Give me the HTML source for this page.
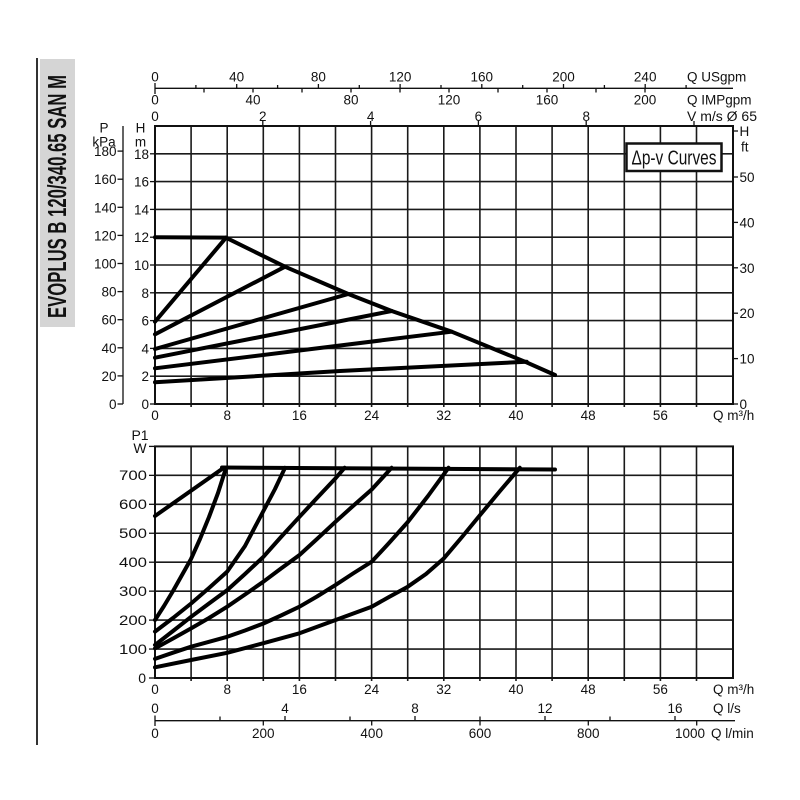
<!DOCTYPE html>
<html>
<head>
<meta charset="utf-8">
<style>
html,body{margin:0;padding:0;background:#fff;}
svg{display:block;}
text{font-family:"Liberation Sans",Arial,sans-serif;fill:#111;}
</style>
</head>
<body>
<svg width="800" height="800" viewBox="0 0 800 800" xmlns="http://www.w3.org/2000/svg">
<rect x="0" y="0" width="800" height="800" fill="#fff"/>

<!-- Title -->
<line x1="37" y1="58" x2="37" y2="745" stroke="#333" stroke-width="2"/>
<rect x="40" y="59" width="35" height="268" fill="#d5d5d5"/>
<text transform="translate(66,196.5) rotate(-90)" x="-121.5" y="0" font-size="26" font-weight="bold" textLength="243" lengthAdjust="spacingAndGlyphs">EVOPLUS B 120/340.65 SAN M</text>

<!-- Top axes -->
<g stroke="#111" stroke-width="1.3">
<line x1="155" y1="88.3" x2="733" y2="88.3"/>
<line x1="155" y1="83" x2="155" y2="94"/>
<!-- USgpm major ticks -->
<line x1="236.7" y1="84" x2="236.7" y2="88.3"/><line x1="318.4" y1="84" x2="318.4" y2="88.3"/><line x1="400.1" y1="84" x2="400.1" y2="88.3"/><line x1="481.8" y1="84" x2="481.8" y2="88.3"/><line x1="563.5" y1="84" x2="563.5" y2="88.3"/><line x1="645.2" y1="84" x2="645.2" y2="88.3"/>
<!-- USgpm minor -->
<line x1="195.9" y1="85" x2="195.9" y2="88.3"/><line x1="277.6" y1="85" x2="277.6" y2="88.3"/><line x1="359.3" y1="85" x2="359.3" y2="88.3"/><line x1="441" y1="85" x2="441" y2="88.3"/><line x1="522.7" y1="85" x2="522.7" y2="88.3"/><line x1="604.4" y1="85" x2="604.4" y2="88.3"/><line x1="686.1" y1="85" x2="686.1" y2="88.3"/>
<!-- IMPgpm ticks -->
<line x1="204" y1="88.3" x2="204" y2="92.5"/><line x1="253" y1="88.3" x2="253" y2="92.5"/><line x1="302" y1="88.3" x2="302" y2="92.5"/><line x1="351" y1="88.3" x2="351" y2="92.5"/><line x1="400" y1="88.3" x2="400" y2="92.5"/><line x1="449" y1="88.3" x2="449" y2="92.5"/><line x1="498" y1="88.3" x2="498" y2="92.5"/><line x1="547" y1="88.3" x2="547" y2="92.5"/><line x1="596" y1="88.3" x2="596" y2="92.5"/><line x1="645" y1="88.3" x2="645" y2="92.5"/>
<!-- V ticks -->
<line x1="262.8" y1="121" x2="262.8" y2="126"/><line x1="370.6" y1="121" x2="370.6" y2="126"/><line x1="478.4" y1="121" x2="478.4" y2="126"/><line x1="586.2" y1="121" x2="586.2" y2="126"/><line x1="694" y1="121" x2="694" y2="126"/>
</g>
<g font-size="13.5" text-anchor="middle">
<text x="155" y="81.5">0</text><text x="236.7" y="81.5">40</text><text x="318.4" y="81.5">80</text><text x="400.1" y="81.5">120</text><text x="481.8" y="81.5">160</text><text x="563.5" y="81.5">200</text><text x="645.2" y="81.5">240</text>
<text x="155" y="104.5">0</text><text x="253" y="104.5">40</text><text x="351" y="104.5">80</text><text x="449" y="104.5">120</text><text x="547" y="104.5">160</text><text x="645" y="104.5">200</text>
<text x="155" y="121">0</text><text x="262.8" y="121">2</text><text x="370.6" y="121">4</text><text x="478.4" y="121">6</text><text x="586.2" y="121">8</text>
</g>
<g font-size="13.5">
<text x="687" y="81.5">Q USgpm</text>
<text x="687" y="104.5">Q IMPgpm</text>
<text x="687" y="121" textLength="70" lengthAdjust="spacingAndGlyphs">V m/s Ø 65</text>
</g>

<!-- Upper chart grid -->
<g stroke="#1a1a1a" stroke-width="1.6">
<line x1="191.1" y1="126" x2="191.1" y2="407"/><line x1="227.2" y1="126" x2="227.2" y2="407"/><line x1="263.3" y1="126" x2="263.3" y2="407"/><line x1="299.4" y1="126" x2="299.4" y2="407"/><line x1="335.5" y1="126" x2="335.5" y2="407"/><line x1="371.6" y1="126" x2="371.6" y2="407"/><line x1="407.7" y1="126" x2="407.7" y2="407"/><line x1="443.8" y1="126" x2="443.8" y2="407"/><line x1="479.9" y1="126" x2="479.9" y2="407"/><line x1="516" y1="126" x2="516" y2="407"/><line x1="552.1" y1="126" x2="552.1" y2="407"/><line x1="588.2" y1="126" x2="588.2" y2="407"/><line x1="624.3" y1="126" x2="624.3" y2="407"/><line x1="660.4" y1="126" x2="660.4" y2="407"/><line x1="696.5" y1="126" x2="696.5" y2="407"/>
<line x1="155" y1="376.2" x2="733" y2="376.2"/><line x1="155" y1="348.4" x2="733" y2="348.4"/><line x1="155" y1="320.6" x2="733" y2="320.6"/><line x1="155" y1="292.8" x2="733" y2="292.8"/><line x1="155" y1="265" x2="733" y2="265"/><line x1="155" y1="237.2" x2="733" y2="237.2"/><line x1="155" y1="209.4" x2="733" y2="209.4"/><line x1="155" y1="181.6" x2="733" y2="181.6"/><line x1="155" y1="153.8" x2="733" y2="153.8"/>
</g>
<rect x="155" y="126" width="578" height="278" fill="none" stroke="#111" stroke-width="2"/>

<!-- left H ticks / P axis -->
<g stroke="#111" stroke-width="1.3">
<line x1="123" y1="126" x2="123" y2="404"/>
<line x1="150" y1="404" x2="155" y2="404"/><line x1="150" y1="376.2" x2="155" y2="376.2"/><line x1="150" y1="348.4" x2="155" y2="348.4"/><line x1="150" y1="320.6" x2="155" y2="320.6"/><line x1="150" y1="292.8" x2="155" y2="292.8"/><line x1="150" y1="265" x2="155" y2="265"/><line x1="150" y1="237.2" x2="155" y2="237.2"/><line x1="150" y1="209.4" x2="155" y2="209.4"/><line x1="150" y1="181.6" x2="155" y2="181.6"/><line x1="150" y1="153.8" x2="155" y2="153.8"/>
<line x1="117.5" y1="404" x2="123" y2="404"/><line x1="117.5" y1="375.9" x2="123" y2="375.9"/><line x1="117.5" y1="347.8" x2="123" y2="347.8"/><line x1="117.5" y1="319.7" x2="123" y2="319.7"/><line x1="117.5" y1="291.6" x2="123" y2="291.6"/><line x1="117.5" y1="263.5" x2="123" y2="263.5"/><line x1="117.5" y1="235.4" x2="123" y2="235.4"/><line x1="117.5" y1="207.3" x2="123" y2="207.3"/><line x1="117.5" y1="179.2" x2="123" y2="179.2"/><line x1="117.5" y1="151.1" x2="123" y2="151.1"/>
<!-- right ft ticks -->
<line x1="733" y1="404" x2="738" y2="404"/><line x1="733" y1="358.6" x2="738" y2="358.6"/><line x1="733" y1="313.2" x2="738" y2="313.2"/><line x1="733" y1="267.8" x2="738" y2="267.8"/><line x1="733" y1="222.4" x2="738" y2="222.4"/><line x1="733" y1="177" x2="738" y2="177"/><line x1="733" y1="131" x2="738" y2="131"/>
</g>
<g font-size="13.5" text-anchor="end">
<text x="149" y="409">0</text><text x="149" y="381.2">2</text><text x="149" y="353.4">4</text><text x="149" y="325.6">6</text><text x="149" y="297.8">8</text><text x="149" y="270">10</text><text x="149" y="242.2">12</text><text x="149" y="214.4">14</text><text x="149" y="186.6">16</text><text x="149" y="158.8">18</text>
<text x="116.5" y="409">0</text><text x="116.5" y="380.9">20</text><text x="116.5" y="352.8">40</text><text x="116.5" y="324.7">60</text><text x="116.5" y="296.6">80</text><text x="116.5" y="268.5">100</text><text x="116.5" y="240.4">120</text><text x="116.5" y="212.3">140</text><text x="116.5" y="184.2">160</text><text x="116.5" y="156.1">180</text>
</g>
<g font-size="13.5" text-anchor="middle">
<text x="104" y="132.5">P</text><text x="104" y="146.5">kPa</text>
<text x="140.5" y="132.5">H</text><text x="140.5" y="146.5">m</text>
</g>
<g font-size="13.5">
<text x="739.5" y="409">0</text><text x="739.5" y="363.6">10</text><text x="739.5" y="318.2">20</text><text x="739.5" y="272.8">30</text><text x="739.5" y="227.4">40</text><text x="739.5" y="182">50</text>
<text x="739.5" y="136">H</text><text x="741" y="151.5">ft</text>
</g>
<!-- upper x labels -->
<g font-size="13.5" text-anchor="middle">
<text x="155" y="420">0</text><text x="227.2" y="420">8</text><text x="299.4" y="420">16</text><text x="371.6" y="420">24</text><text x="443.8" y="420">32</text><text x="516" y="420">40</text><text x="588.2" y="420">48</text><text x="660.4" y="420">56</text>
</g>
<text x="713" y="420" font-size="13.5">Q m³/h</text>

<!-- Δp-v box -->
<rect x="626.5" y="143.5" width="95" height="27.5" fill="#fff" stroke="#111" stroke-width="2.5"/>
<text x="631.5" y="164.5" font-size="20" textLength="85" lengthAdjust="spacingAndGlyphs">Δp-v Curves</text>

<!-- Upper curves -->
<g fill="none" stroke="#000" stroke-width="4" stroke-linejoin="round" stroke-linecap="round">
<polyline points="155,237.3 226,237.6"/>
<polyline points="226,237.7 285,266.7 348.3,294 391.7,311 451.7,331.7 525,361.7 555,375"/>
<polyline points="155,321.7 226,237.7"/>
<polyline points="155,334.3 285,266.7"/>
<polyline points="155,349 348.3,294"/>
<polyline points="155,357.7 391.7,311"/>
<polyline points="155,368.3 451.7,331.7"/>
<polyline points="155,382.3 340,371 526.7,361.7"/>
</g>

<!-- Lower chart grid -->
<g stroke="#1a1a1a" stroke-width="1.6">
<line x1="191.1" y1="446.4" x2="191.1" y2="681"/><line x1="227.2" y1="446.4" x2="227.2" y2="681"/><line x1="263.3" y1="446.4" x2="263.3" y2="681"/><line x1="299.4" y1="446.4" x2="299.4" y2="681"/><line x1="335.5" y1="446.4" x2="335.5" y2="681"/><line x1="371.6" y1="446.4" x2="371.6" y2="681"/><line x1="407.7" y1="446.4" x2="407.7" y2="681"/><line x1="443.8" y1="446.4" x2="443.8" y2="681"/><line x1="479.9" y1="446.4" x2="479.9" y2="681"/><line x1="516" y1="446.4" x2="516" y2="681"/><line x1="552.1" y1="446.4" x2="552.1" y2="681"/><line x1="588.2" y1="446.4" x2="588.2" y2="681"/><line x1="624.3" y1="446.4" x2="624.3" y2="681"/><line x1="660.4" y1="446.4" x2="660.4" y2="681"/><line x1="696.5" y1="446.4" x2="696.5" y2="681"/>
<line x1="155" y1="649.05" x2="733" y2="649.05"/><line x1="155" y1="620.1" x2="733" y2="620.1"/><line x1="155" y1="591.15" x2="733" y2="591.15"/><line x1="155" y1="562.2" x2="733" y2="562.2"/><line x1="155" y1="533.25" x2="733" y2="533.25"/><line x1="155" y1="504.3" x2="733" y2="504.3"/><line x1="155" y1="475.35" x2="733" y2="475.35"/>
</g>
<rect x="155" y="446.4" width="578" height="231.6" fill="none" stroke="#111" stroke-width="2"/>
<g stroke="#111" stroke-width="1.3">
<line x1="149" y1="678" x2="155" y2="678"/><line x1="149" y1="649.05" x2="155" y2="649.05"/><line x1="149" y1="620.1" x2="155" y2="620.1"/><line x1="149" y1="591.15" x2="155" y2="591.15"/><line x1="149" y1="562.2" x2="155" y2="562.2"/><line x1="149" y1="533.25" x2="155" y2="533.25"/><line x1="149" y1="504.3" x2="155" y2="504.3"/><line x1="149" y1="475.35" x2="155" y2="475.35"/><line x1="149" y1="446.4" x2="155" y2="446.4"/>
</g>
<g font-size="14" text-anchor="end">
<text x="146" y="683">0</text>
<text x="147" y="654" textLength="28" lengthAdjust="spacingAndGlyphs">100</text>
<text x="147" y="625" textLength="28" lengthAdjust="spacingAndGlyphs">200</text>
<text x="147" y="596" textLength="28" lengthAdjust="spacingAndGlyphs">300</text>
<text x="147" y="567" textLength="28" lengthAdjust="spacingAndGlyphs">400</text>
<text x="147" y="538" textLength="28" lengthAdjust="spacingAndGlyphs">500</text>
<text x="147" y="509" textLength="28" lengthAdjust="spacingAndGlyphs">600</text>
<text x="147" y="480" textLength="28" lengthAdjust="spacingAndGlyphs">700</text>
</g>
<g font-size="14" text-anchor="middle">
<text x="140" y="440">P1</text><text x="140" y="453">W</text>
</g>
<g font-size="13.5" text-anchor="middle">
<text x="155" y="694">0</text><text x="227.2" y="694">8</text><text x="299.4" y="694">16</text><text x="371.6" y="694">24</text><text x="443.8" y="694">32</text><text x="516" y="694">40</text><text x="588.2" y="694">48</text><text x="660.4" y="694">56</text>
</g>
<text x="713" y="694" font-size="13.5">Q m³/h</text>

<!-- Lower curves -->
<g fill="none" stroke="#000" stroke-width="4" stroke-linejoin="round" stroke-linecap="round">
<polyline points="222,467.5 555,469.5"/>
<polyline points="155,516 222,469"/>
<polyline points="155,620 164,606 173,591 182,575 191,559 200,539 209,517 218,493 226,468"/>
<polyline points="155,631.6 173,618 191.1,603.5 209,588 227.2,571.6 245,546 263.4,511 275,489 285,467.8"/>
<polyline points="155,645 173,631 191.1,616.8 209,603.5 227.2,590.1 245,574 263.4,556.8 281,537 299.5,516.8 317,498 335.6,478.2 344.6,467.8"/>
<polyline points="155,648.4 173,638.5 191.1,628.4 209,618 227.2,606.7 245,594.5 263.4,581.7 281,568.5 299.5,555 317,539 335.6,521.7 353,506 371.7,489.5 391.6,467.8"/>
<polyline points="155,658.9 173,652.7 191.1,646.7 209,641.8 227.2,636.8 245,630.5 263.4,623.5 281,615.5 299.5,606.7 317,596.5 335.6,584.9 353,573.5 371.7,561.7 389,543 407.8,522 428,496 448.5,467.8"/>
<polyline points="155,667.3 191.1,660 227.2,652.8 263.4,643.2 299.5,633.3 335.6,620 371.7,606.7 389,597 407.8,586.7 426,574 444,558.2 462,537 480.1,515 500,491 519.8,467.8"/>
</g>

<!-- Bottom axis -->
<g stroke="#111" stroke-width="1.3">
<line x1="155" y1="720.7" x2="735" y2="720.7"/>
<line x1="155" y1="715.5" x2="155" y2="726"/>
<line x1="220" y1="716.5" x2="220" y2="720.7"/><line x1="285" y1="716" x2="285" y2="720.7"/><line x1="350" y1="716.5" x2="350" y2="720.7"/><line x1="415" y1="716" x2="415" y2="720.7"/><line x1="480" y1="716.5" x2="480" y2="720.7"/><line x1="545" y1="716" x2="545" y2="720.7"/><line x1="610" y1="716.5" x2="610" y2="720.7"/><line x1="675" y1="716" x2="675" y2="720.7"/>
<line x1="263.3" y1="720.7" x2="263.3" y2="725.5"/><line x1="371.7" y1="720.7" x2="371.7" y2="725.5"/><line x1="480" y1="720.7" x2="480" y2="725.5"/><line x1="588.3" y1="720.7" x2="588.3" y2="725.5"/><line x1="696.7" y1="720.7" x2="696.7" y2="725.5"/>
</g>
<g font-size="13.5" text-anchor="middle">
<text x="155" y="713">0</text><text x="285" y="713">4</text><text x="415" y="713">8</text><text x="545" y="713">12</text><text x="675" y="713">16</text>
<text x="155" y="738">0</text><text x="263.3" y="738">200</text><text x="371.7" y="738">400</text><text x="480" y="738">600</text><text x="588.3" y="738">800</text>
</g>
<text x="705" y="738" font-size="13.5" text-anchor="end">1000</text>
<text x="713" y="713" font-size="13.5">Q l/s</text>
<text x="711" y="738" font-size="13.5">Q l/min</text>
</svg>
</body>
</html>
